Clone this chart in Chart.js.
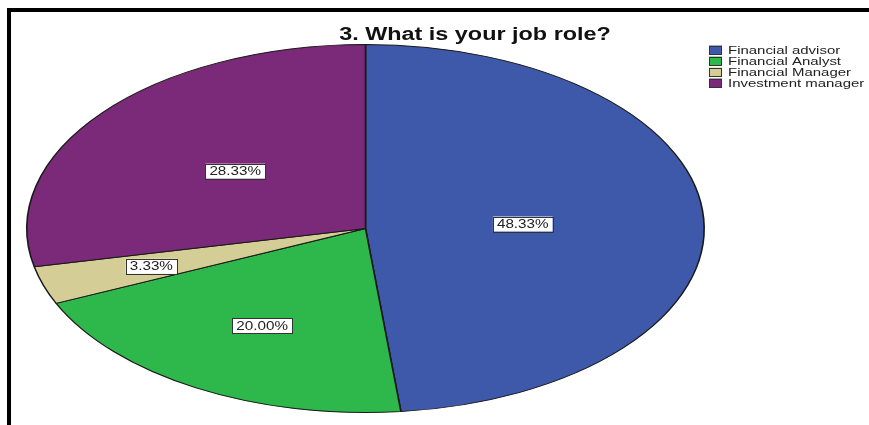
<!DOCTYPE html>
<html lang="en">
  <head>
    <meta charset="UTF-8" />
    <title>What is your job role?</title>
    <script src="https://cdn.jsdelivr.net/npm/chart.js"></script>
    <style>
      body { margin: 0; background: #fff; }
    </style>
  </head>
  <body>
    <canvas id="jobRoleChart" width="869" height="425"></canvas>
    <script>
      const titleText = "3. What is your job role?";
      const roles = ["Financial advisor", "Financial Analyst", "Financial Manager", "Investment manager"];
      const counts = [29, 12, 2, 17];
      const colors = ["#3e59aa", "#2eb84c", "#d5cd96", "#7b2a7a"];
      // how far out (fraction of radius) each percent label sits, like the SPSS output
      const labelRadius = [0.465, 0.61, 0.665, 0.495];

      const total = counts.reduce((a, b) => a + b, 0);
      const percents = counts.map((c) => ((c / total) * 100).toFixed(2) + "%");

      const FONT = "'Liberation Sans', Arial, sans-serif";
      const SX = 1.84; // the pie is squashed into an ellipse

      function stretchText(ctx, text, x, y, sx, align) {
        ctx.save();
        ctx.translate(x, y);
        ctx.scale(sx, 1);
        ctx.textAlign = align;
        ctx.fillText(text, 0, 0);
        ctx.restore();
      }

      const ellipsePlugin = {
        id: "ellipse",
        beforeDatasetsDraw(chart) {
          const arc = chart.getDatasetMeta(0).data[0];
          const ctx = chart.ctx;
          ctx.save();
          ctx.translate(arc.x, 0);
          ctx.scale(SX, 1);
          ctx.translate(-arc.x, 0);
        },
        afterDatasetsDraw(chart) {
          chart.ctx.restore();
        },
        afterDraw(chart) {
          const ctx = chart.ctx;
          // percent labels
          ctx.save();
          ctx.font = "12px " + FONT;
          ctx.textBaseline = "middle";
          chart.getDatasetMeta(0).data.forEach((arc, i) => {
            const mid = (arc.startAngle + arc.endAngle) / 2;
            const r = arc.outerRadius * labelRadius[i];
            const x = arc.x + Math.cos(mid) * r * SX;
            const y = arc.y + Math.sin(mid) * r;
            const w = ctx.measureText(percents[i]).width * 1.27 + 8;
            const h = 15;
            ctx.fillStyle = "#fff";
            ctx.fillRect(x - w / 2, y - h / 2, w, h);
            ctx.strokeStyle = "#333";
            ctx.lineWidth = 1;
            ctx.strokeRect(Math.round(x - w / 2) + 0.5, Math.round(y - h / 2) + 0.5, Math.round(w), h);
            ctx.fillStyle = "#222";
            stretchText(ctx, percents[i], x, y + 0.5, 1.27, "center");
          });

          // title
          ctx.font = "bold 18px " + FONT;
          ctx.fillStyle = "#111";
          stretchText(ctx, titleText, 475, 35, 1.3, "center");

          // legend
          ctx.font = "11.5px " + FONT;
          roles.forEach((name, i) => {
            const y = 50 + i * 11;
            ctx.fillStyle = colors[i];
            ctx.fillRect(709, y - 4.5, 13, 9);
            ctx.strokeStyle = "#333";
            ctx.strokeRect(709.5, Math.round(y - 4.5) + 0.5, 12, 8);
            ctx.fillStyle = "#222";
            stretchText(ctx, name, 728, y + 0.5, 1.3, "left");
          });

          // frame
          ctx.fillStyle = "#000";
          ctx.fillRect(7, 8, 862, 4);
          ctx.fillRect(7, 8, 4, 417);
          ctx.restore();
        },
      };

      new Chart(document.getElementById("jobRoleChart"), {
        type: "pie",
        data: {
          labels: roles,
          datasets: [
            {
              data: counts,
              backgroundColor: colors,
              borderColor: "#1a1a1a",
              borderWidth: 0.9,
              clip: false,
            },
          ],
        },
        options: {
          responsive: false,
          animation: false,
          events: [],
          layout: { padding: { left: 181, right: 319, top: 44, bottom: 12 } },
          plugins: {
            legend: { display: false },
            title: { display: false },
            tooltip: { enabled: false },
          },
        },
        plugins: [ellipsePlugin],
      });
    </script>
  </body>
</html>
